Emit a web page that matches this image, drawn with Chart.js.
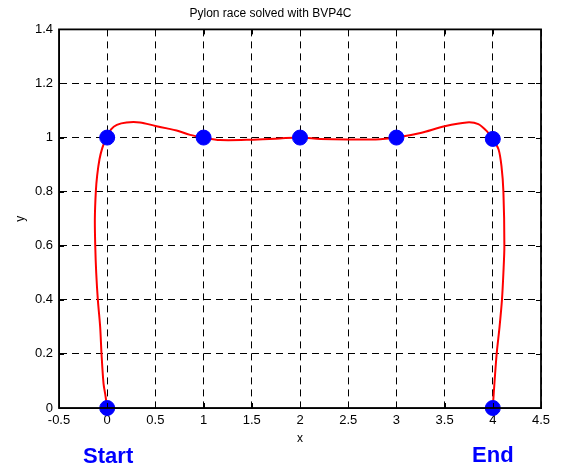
<!DOCTYPE html>
<html>
<head>
<meta charset="utf-8">
<script src="https://cdn.jsdelivr.net/npm/chart.js@4"></script>
<style>
  html, body { margin: 0; padding: 0; background: #fff; }
  #wrap { width: 564px; height: 469px; }
</style>
</head>
<body>
<div id="wrap"><canvas id="chart" width="564" height="469"></canvas></div>
<script>
// Pylon race solved with BVP4C
const pathX = [0, -0.02, -0.038, -0.059, -0.073, -0.097, -0.114, -0.124, -0.128, -0.118, -0.104, -0.08, -0.052, -0.025, 0,
  0.04, 0.1, 0.2, 0.34, 0.5, 0.62, 0.72, 0.86, 1.0, 1.17, 1.48, 1.79, 2.0, 2.21, 2.49, 2.83, 3.0, 3.25, 3.5, 3.73, 3.85, 3.94, 4.0,
  4.06, 4.09, 4.11, 4.12, 4.11, 4.095, 4.07, 4.04, 4.01, 4.0];
const pathY = [0, 0.05, 0.09, 0.2, 0.3, 0.4, 0.5, 0.6, 0.7, 0.8, 0.86, 0.92, 0.96, 0.985, 1.0,
  1.03, 1.047, 1.056, 1.056, 1.043, 1.034, 1.026, 1.01, 1.0, 0.991, 0.992, 0.997, 1.0, 0.995, 0.993, 0.994, 1.0, 1.017, 1.042, 1.056, 1.05, 1.023, 0.995,
  0.956, 0.894, 0.8, 0.6, 0.5, 0.4, 0.3, 0.2, 0.056, 0];
const pylonX = [0, 0, 1, 2, 3, 4, 4];
const pylonY = [0, 1, 1, 1, 1, 0.995, 0];
const xTicks = [-0.5, 0, 0.5, 1, 1.5, 2, 2.5, 3, 3.5, 4, 4.5];
const xTickLabels = ['-0.5', '0', '0.5', '1', '1.5', '2', '2.5', '3', '3.5', '4', '4.5'];
const yTicks = [0, 0.2, 0.4, 0.6, 0.8, 1, 1.2, 1.4];
const yTickLabels = ['0', '0.2', '0.4', '0.6', '0.8', '1', '1.2', '1.4'];

const FONT = '"Liberation Sans", Arial, sans-serif';

function tickLabel(ticks, labels) {
    return value => {
        const i = ticks.findIndex(t => Math.abs(t - value) < 1e-6);
        return i >= 0 ? labels[i] : '';
    };
}

// box round the axes + small inward tick marks, like MATLAB
const boxPlugin = {
    id: 'box',
    afterDatasetsDraw(chart) {
        const { ctx, chartArea: a, scales } = chart;
        ctx.save();
        ctx.strokeStyle = '#000';
        ctx.lineWidth = 1;
        ctx.setLineDash([]);
        ctx.beginPath();
        xTicks.forEach(v => {
            const px = Math.round(scales.x.getPixelForValue(v)) + 0.5;
            ctx.moveTo(px, a.bottom); ctx.lineTo(px, a.bottom - 5);
            ctx.moveTo(px, a.top); ctx.lineTo(px, a.top + 5);
        });
        yTicks.forEach(v => {
            const py = Math.round(scales.y.getPixelForValue(v)) + 0.5;
            ctx.moveTo(a.left, py); ctx.lineTo(a.left + 5, py);
            ctx.moveTo(a.right, py); ctx.lineTo(a.right - 5, py);
        });
        ctx.stroke();
        ctx.lineWidth = 1.8;
        ctx.strokeRect(a.left, a.top, a.right - a.left, a.bottom - a.top);
        ctx.restore();
    },
    afterDraw(chart) {
        const { ctx, scales } = chart;
        ctx.save();
        ctx.fillStyle = '#0000ff';
        ctx.font = 'bold 22px ' + FONT;
        ctx.textAlign = 'center';
        ctx.textBaseline = 'middle';
        ctx.fillText('Start', scales.x.getPixelForValue(0.01), 457);
        ctx.fillText('End', scales.x.getPixelForValue(4), 456);
        ctx.restore();
    }
};

new Chart(document.getElementById('chart'), {
    type: 'scatter',
    data: {
        datasets: [
            {
                label: 'pylons',
                data: pylonX.map((x, i) => ({ x, y: pylonY[i] })),
                backgroundColor: '#0000ff',
                borderColor: '#0000ff',
                pointRadius: 7.5,
                pointHoverRadius: 7.5,
                showLine: false,
                clip: false,
                order: 0
            },
            {
                label: 'path',
                data: pathX.map((x, i) => ({ x, y: pathY[i] })),
                borderColor: '#ff0000',
                backgroundColor: '#ff0000',
                borderWidth: 2,
                pointRadius: 0,
                showLine: true,
                tension: 0.3,
                order: 1
            }
        ]
    },
    options: {
        responsive: false,
        animation: false,
        layout: { padding: { left: 0, right: 23, top: 0, bottom: 0 } },
        plugins: {
            legend: { display: false },
            tooltip: { enabled: false },
            title: {
                display: true,
                text: 'Pylon race solved with BVP4C',
                color: '#000',
                font: { family: FONT, size: 12, weight: 'normal', lineHeight: 1.2 },
                padding: { top: 6, bottom: 9 }
            }
        },
        scales: {
            x: {
                type: 'linear',
                min: -0.5, max: 4.5,
                afterBuildTicks: s => { s.ticks = xTicks.map(v => ({ value: v })); },
                afterFit: s => { s.height = 61; },
                grid: { color: '#000', lineWidth: 1, drawTicks: false },
                border: { display: true, color: '#000', width: 1, dash: [7, 5] },
                ticks: { color: '#000', padding: 5, font: { family: FONT, size: 13 }, maxRotation: 0,
                         callback: tickLabel(xTicks, xTickLabels) },
                title: { display: true, text: 'x', color: '#000', font: { family: FONT, size: 12 },
                         padding: { top: 0, bottom: 23 } }
            },
            y: {
                type: 'linear',
                min: 0, max: 1.4,
                afterBuildTicks: s => { s.ticks = yTicks.map(v => ({ value: v })); },
                afterFit: s => { s.width = 59; },
                grid: { color: '#000', lineWidth: 1, drawTicks: false },
                border: { display: true, color: '#000', width: 1, dash: [7, 5] },
                ticks: { color: '#000', padding: 6, font: { family: FONT, size: 13 },
                         callback: tickLabel(yTicks, yTickLabels) },
                title: { display: true, text: 'y', color: '#000', font: { family: FONT, size: 12 },
                         padding: { top: 13, bottom: 0 } }
            }
        }
    },
    plugins: [boxPlugin]
});
</script>
</body>
</html>
